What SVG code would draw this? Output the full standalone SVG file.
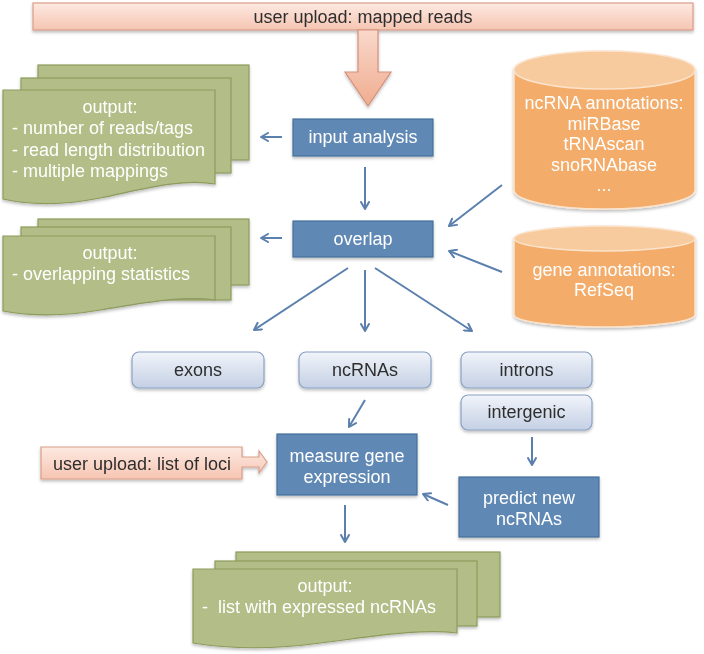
<svg xmlns="http://www.w3.org/2000/svg" width="704" height="654" viewBox="0 0 704 654">
<defs>
  <linearGradient id="gPink" x1="0" y1="0" x2="0" y2="1">
    <stop offset="0" stop-color="#fde9e1"/>
    <stop offset="1" stop-color="#f6c5b2"/>
  </linearGradient>
  <linearGradient id="gArrow" x1="0" y1="0" x2="0" y2="1">
    <stop offset="0" stop-color="#f9d8ca"/>
    <stop offset="1" stop-color="#f0ac90"/>
  </linearGradient>
  <linearGradient id="gLight" x1="0" y1="0" x2="0" y2="1">
    <stop offset="0" stop-color="#f1f4fa"/>
    <stop offset="1" stop-color="#c4d0e4"/>
  </linearGradient>
  <filter id="sh" x="-10%" y="-10%" width="130%" height="140%">
    <feDropShadow dx="0" dy="2" stdDeviation="1.5" flood-color="#000" flood-opacity="0.25"/>
  </filter>
  <marker id="ah" viewBox="0 0 10 10" refX="8.5" refY="5" markerWidth="10" markerHeight="10" markerUnits="userSpaceOnUse" orient="auto">
    <path d="M1.5,1 L8.5,5 L1.5,9" fill="none" stroke="#5b80ad" stroke-width="2" stroke-linejoin="round" stroke-linecap="round"/>
  </marker>
</defs>
<style>
  text { font-family: "Liberation Sans", Arial, sans-serif; font-size: 18px; dominant-baseline: central; }
  .w { fill: #ffffff; }
  .d { fill: #2e2e2e; }
  .c { text-anchor: middle; }
  .pre { white-space: pre; }
  .upload { fill: url(#gPink); stroke: #d99d88; stroke-width: 1.2; }
  .bigarrow { fill: url(#gArrow); stroke: #d49078; stroke-width: 1.2; }
  .sheet { fill: #b3bd87; stroke: #8d9b5c; stroke-width: 1.2; }
  .proc { fill: #6088b4; stroke: #47709c; stroke-width: 1.2; }
  .cat { fill: url(#gLight); stroke: #8aa1c3; stroke-width: 1.2; }
  .cylbody { fill: #f3ac6a; stroke: #fbe3cc; stroke-width: 1.5; }
  .cyltop { fill: #f8cb9f; stroke: #fbe3cc; stroke-width: 1.5; }
  .conn line { stroke: #5b80ad; stroke-width: 2; marker-end: url(#ah); }
</style>

<g id="upload-reads" filter="url(#sh)">
  <rect class="upload" x="33" y="3" width="660" height="27"/>
  <text class="d c" x="363" y="17">user upload: mapped reads</text>
</g>
<g id="big-arrow" filter="url(#sh)">
  <path class="bigarrow" d="M358,30 H378 V72 H391 L368,106 L345,72 H358 Z"/>
</g>

<g id="output1" filter="url(#sh)">
  <rect class="sheet" x="38" y="65" width="211" height="95"/>
  <rect class="sheet" x="21" y="78" width="210" height="95"/>
  <path class="sheet" d="M3,90 H215 V184 C180,178 140,190 100,198 C60,206 30,205 3,199 Z"/>
  <text class="w c" x="110" y="107">output:</text>
  <text class="w" x="12" y="128">- number of reads/tags</text>
  <text class="w" x="12" y="150">- read length distribution</text>
  <text class="w" x="12" y="171">- multiple mappings</text>
</g>

<g id="output2" filter="url(#sh)">
  <rect class="sheet" x="38" y="219" width="211" height="66"/>
  <rect class="sheet" x="21" y="227" width="210" height="73"/>
  <path class="sheet" d="M3,236 H215 V300 C180,295 140,304 100,310 C60,317 30,316 3,311 Z"/>
  <text class="w c" x="110" y="253">output:</text>
  <text class="w" x="12" y="274">- overlapping statistics</text>
</g>

<g id="input-analysis" filter="url(#sh)">
  <rect class="proc" x="293" y="119" width="140" height="37"/>
  <text class="w c" x="363" y="137">input analysis</text>
</g>
<g id="overlap" filter="url(#sh)">
  <rect class="proc" x="293" y="221" width="140" height="36"/>
  <text class="w c" x="363" y="239">overlap</text>
</g>

<g id="ncrna-annotations" filter="url(#sh)">
  <path class="cylbody" d="M514,70 V190 A90.5,19 0 0 0 695,190 V70 Z"/>
  <ellipse class="cyltop" cx="604.5" cy="70" rx="90.5" ry="19"/>
  <text class="w c" x="604" y="103">ncRNA annotations:</text>
  <text class="w c" x="604" y="123.5">miRBase</text>
  <text class="w c" x="604" y="144">tRNAscan</text>
  <text class="w c" x="604" y="164.5">snoRNAbase</text>
  <text class="w c" x="604" y="185">...</text>
</g>
<g id="gene-annotations" filter="url(#sh)">
  <path class="cylbody" d="M514,238.5 V314.5 A90.5,12.5 0 0 0 695,314.5 V238.5 Z"/>
  <ellipse class="cyltop" cx="604.5" cy="238.5" rx="90.5" ry="12.5"/>
  <text class="w c" x="604" y="270">gene annotations:</text>
  <text class="w c" x="604" y="290">RefSeq</text>
</g>

<g id="exons" filter="url(#sh)">
  <rect class="cat" x="132" y="352" width="132" height="36" rx="7"/>
  <text class="d c" x="198" y="370">exons</text>
</g>
<g id="ncrnas" filter="url(#sh)">
  <rect class="cat" x="299" y="352" width="132" height="36" rx="7"/>
  <text class="d c" x="365" y="370">ncRNAs</text>
</g>
<g id="introns" filter="url(#sh)">
  <rect class="cat" x="461" y="352" width="131" height="36" rx="7"/>
  <text class="d c" x="526.5" y="370">introns</text>
</g>
<g id="intergenic" filter="url(#sh)">
  <rect class="cat" x="461" y="395" width="131" height="35" rx="7"/>
  <text class="d c" x="526.5" y="412">intergenic</text>
</g>

<g id="upload-loci" filter="url(#sh)">
  <path class="upload" d="M41,447 H242 V457 H259 V451 L267,462 L259,473 V467 H242 V479 H41 Z"/>
  <text class="d c" x="142" y="464">user upload: list of loci</text>
</g>
<g id="measure" filter="url(#sh)">
  <rect class="proc" x="277" y="434" width="140" height="61"/>
  <text class="w c" x="347" y="456">measure gene</text>
  <text class="w c" x="347" y="477">expression</text>
</g>
<g id="predict" filter="url(#sh)">
  <rect class="proc" x="459" y="477" width="140" height="60"/>
  <text class="w c" x="529" y="498">predict new</text>
  <text class="w c" x="529" y="519">ncRNAs</text>
</g>

<g id="output3" filter="url(#sh)">
  <rect class="sheet" x="236" y="552" width="264" height="65"/>
  <rect class="sheet" x="215" y="561" width="262" height="65"/>
  <path class="sheet" d="M193,569 H457 V633 C420,628 370,637 320,643 C270,650 230,649 193,643 Z"/>
  <text class="w c" x="325" y="586">output:</text>
  <text class="w pre" x="202" y="607">-  list with expressed ncRNAs</text>
</g>

<g id="connectors" class="conn">
  <line x1="282" y1="137" x2="261" y2="137"/>
  <line x1="282" y1="238" x2="261" y2="238"/>
  <line x1="365" y1="167" x2="365" y2="209"/>
  <line x1="502" y1="185" x2="449" y2="226"/>
  <line x1="502" y1="272" x2="449" y2="251"/>
  <line x1="348" y1="268" x2="254" y2="330"/>
  <line x1="365" y1="270" x2="365" y2="331"/>
  <line x1="375" y1="268" x2="472" y2="331"/>
  <line x1="365" y1="400" x2="349" y2="427"/>
  <line x1="532" y1="437" x2="532" y2="465"/>
  <line x1="448" y1="505" x2="423" y2="494"/>
  <line x1="345" y1="505" x2="345" y2="542"/>
</g>
</svg>
